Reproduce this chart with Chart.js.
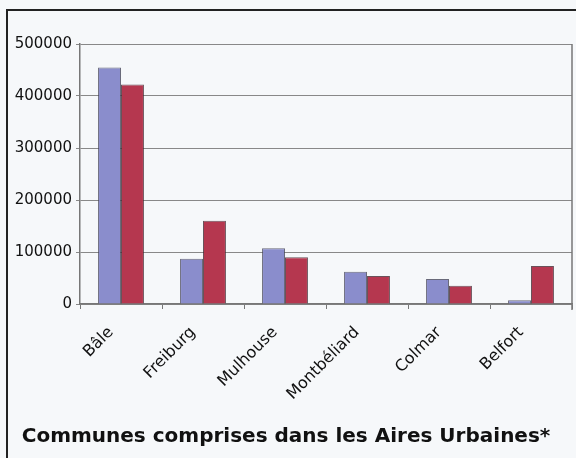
<!DOCTYPE html>
<html>
<head>
<meta charset="utf-8">
<script src="https://cdn.jsdelivr.net/npm/chart.js@4"></script>
<style>
html,body{margin:0;padding:0;background:#f6f8fa;}
#wrap{width:576px;height:458px;position:relative;}
</style>
</head>
<body>
<div id="wrap"><canvas id="c" width="576" height="458"></canvas></div>
<script>
const categories = ['Bâle', 'Freiburg', 'Mulhouse', 'Montbéliard', 'Colmar', 'Belfort'];
const seriesBlue = [455000, 87000, 107000, 62000, 48000, 7000];
const seriesRed = [422000, 160000, 90000, 54000, 35000, 73000];
const yTicks = [0, 100000, 200000, 300000, 400000, 500000];
const titleText = 'Communes comprises dans les Aires Urbaines*';

const framePlugin = {
  id: 'frame',
  afterDraw(chart) {
    const ctx = chart.ctx;
    const a = chart.chartArea;
    ctx.save();
    ctx.strokeStyle = '#777';
    ctx.lineWidth = 1.5;
    ctx.beginPath();
    ctx.moveTo(a.right, a.top);
    ctx.lineTo(a.right, a.bottom + 6);
    ctx.stroke();
    ctx.strokeStyle = '#222';
    ctx.lineWidth = 2;
    ctx.beginPath();
    ctx.moveTo(7, 458);
    ctx.lineTo(7, 10);
    ctx.lineTo(576, 10);
    ctx.stroke();
    ctx.restore();
  }
};

new Chart(document.getElementById('c'), {
  type: 'bar',
  data: {
    labels: categories,
    datasets: [
      { data: seriesBlue, backgroundColor: '#8a8dcc', borderColor: 'rgba(70,70,90,0.8)', borderWidth: 1 },
      { data: seriesRed, backgroundColor: '#b5374f', borderColor: 'rgba(70,40,50,0.8)', borderWidth: 1 }
    ]
  },
  options: {
    responsive: false,
    animation: false,
    categoryPercentage: 0.56,
    barPercentage: 1,
    layout: { padding: { left: 0, right: 4, top: 44, bottom: 0 } },
    plugins: {
      legend: { display: false },
      tooltip: { enabled: false },
      title: {
        display: true,
        position: 'bottom',
        text: titleText,
        color: '#111',
        font: { family: 'DejaVu Sans', size: 20, weight: 'bold' },
        padding: { top: 0, bottom: 9 }
      }
    },
    scales: {
      x: {
        grid: { offset: true, drawOnChartArea: false, tickLength: 5, color: '#777' },
        border: { color: '#777', width: 1.5 },
        ticks: {
          minRotation: 45, maxRotation: 45,
          color: '#111',
          padding: 14,
          labelOffset: -10,
          font: { family: 'DejaVu Sans', size: 16 }
        },
        afterFit(s) { s.height = 121; }
      },
      y: {
        min: 0, max: 500000,
        afterBuildTicks(s) { s.ticks = yTicks.map(v => ({ value: v })); },
        grid: { color: '#888', lineWidth: 1, tickLength: 4 },
        border: { color: '#777', width: 1.5 },
        ticks: {
          color: '#111',
          padding: 4,
          font: { family: 'DejaVu Sans', size: 15 },
          callback: v => String(v)
        },
        afterFit(s) { s.width = 80; }
      }
    }
  },
  plugins: [framePlugin]
});
</script>
</body>
</html>
